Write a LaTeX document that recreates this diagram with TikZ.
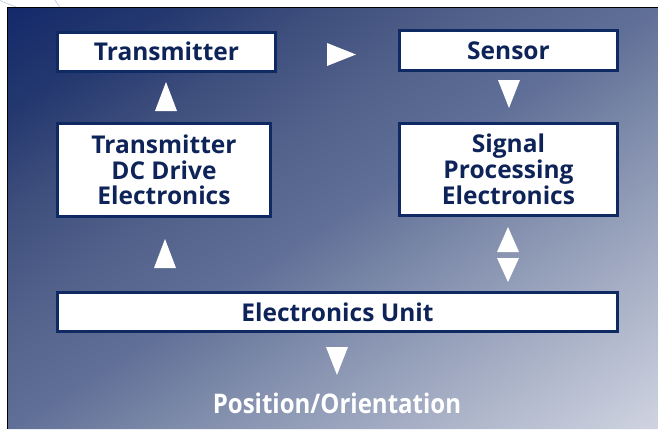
\documentclass[tikz,border=0pt]{standalone}
\usepackage{fontspec}
\setmainfont{Open Sans}
\newfontfamily\condfont[FakeStretch=0.89]{Open Sans}
\usetikzlibrary{calc}
\definecolor{navy}{HTML}{0F2A62}
\definecolor{inktext}{HTML}{0E2459}
\definecolor{scratch}{HTML}{C9D1E2}
\definecolor{ramp0}{HTML}{14296A}
\definecolor{ramp1}{HTML}{24386F}
\definecolor{ramp2}{HTML}{40507E}
\definecolor{ramp3}{HTML}{52628B}
\definecolor{ramp4}{HTML}{606F97}
\definecolor{ramp5}{HTML}{7E8BAA}
\definecolor{ramp6}{HTML}{9AA4BD}
\definecolor{ramp8}{HTML}{D0D4E1}
% colour ramp along the panel diagonal (25bp..75bp spans the shaded path)
\pgfdeclarehorizontalshading{panelramp}{100bp}{%
  color(0bp)=(ramp0); color(25bp)=(ramp0); color(31.25bp)=(ramp1);
  color(37.5bp)=(ramp2); color(43.75bp)=(ramp3); color(50bp)=(ramp4);
  color(56.25bp)=(ramp5); color(62.5bp)=(ramp6); color(75bp)=(ramp8);
  color(100bp)=(ramp8)}

\begin{document}
\begin{tikzpicture}[x=1pt,y=-1pt,
  blockbox/.style={draw=navy, line width=3pt, fill=white, text=inktext,
    font=\fontsize{24.5}{25.8}\selectfont\bfseries, align=center, inner sep=0pt},
  pics/pointerup/.style={code={\fill[white] (-11,#1/2) -- (11,#1/2) -- (0,-#1/2) -- cycle;}},
  pics/pointerdown/.style={code={\fill[white] (-11,-#1/2) -- (11,-#1/2) -- (0,#1/2) -- cycle;}},
  pics/pointerright/.style={code={\fill[white] (-#1/2,-11.5) -- (-#1/2,11.5) -- (#1/2,0) -- cycle;}}
]
\useasboundingbox (0,0) rectangle (658,429);
\fill[white] (0,0) rectangle (658,429);
% faint marks in the white corner
\draw[scratch, line width=0.8pt] (0,0.5) -- (17,7.5);
\draw[scratch, line width=0.8pt] (55,0) -- (60,7.5);

% shaded panel: ramp runs along x/650 + y/421, sheared onto the panel
\begin{scope}
  \clip (8,8) rectangle (658,429);
  \shade[shading=panelramp, transform canvas={cm={6.5,0,-6.5,-4.21,(8pt,-8pt)}}]
    (0pt,0pt) rectangle (200pt,100pt);
\end{scope}
\draw[black, line width=1pt] (658,7.5) -- (7.5,7.5) -- (7.5,429);

% blocks
\node[blockbox, minimum width=218pt, minimum height=39pt] (tx) at (166.5,51.5) {Transmitter};
\node[blockbox, minimum width=218pt, minimum height=40pt] (sens) at (508.5,50.5) {Sensor};
\node[blockbox, minimum width=213pt, minimum height=93pt] (drive) at (164,170)
  {Transmitter\\DC Drive\\Electronics};
\node[blockbox, minimum width=218pt, minimum height=92pt] (proc) at (508.5,169.5)
  {Signal\\Processing\\Electronics};
\node[blockbox, minimum width=560pt, minimum height=39pt] (unit) at (337.5,312) {Electronics Unit};

% flow pointers
\coordinate (p1) at (341.5,54.5);
\coordinate (p2) at (166,96.5);
\coordinate (p3) at (509,94);
\coordinate (p4) at (165,253.5);
\coordinate (p5) at (508,239.5);
\coordinate (p6) at (508,270);
\coordinate (p7) at (337,361);
\pic at (p1) {pointerright=29};
\pic at (p2) {pointerup=29};
\pic at (p3) {pointerdown=28};
\pic at (p4) {pointerup=29};
\pic at (p5) {pointerup=25};
\pic at (p6) {pointerdown=24};
\pic at (p7) {pointerdown=28};

\node[text=white, font=\condfont\fontsize{27}{28}\selectfont\bfseries, anchor=base] (out) at (337,413)
  {Position/Orientation};
\end{tikzpicture}
\end{document}
